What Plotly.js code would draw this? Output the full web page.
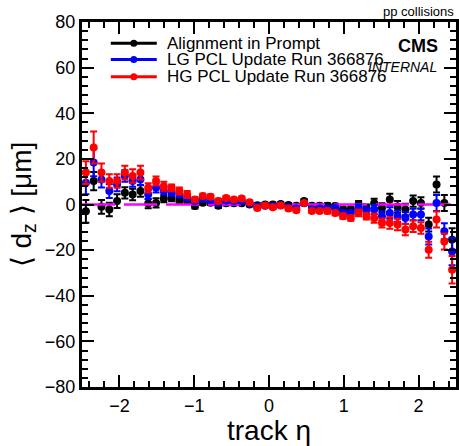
<!DOCTYPE html>
<html>
<head>
<meta charset="utf-8">
<script src="https://cdn.plot.ly/plotly-3.0.1.min.js"></script>
<style>html,body{margin:0;padding:0;background:#fff;}#chart{width:459px;height:446px;}</style>
</head>
<body>
<div id="chart"></div>
<script>
// track eta bin centres
var eta = [-2.448,-2.344,-2.240,-2.135,-2.031,-1.927,-1.823,-1.719,-1.615,-1.510,-1.406,-1.302,
  -1.198,-1.094,-0.990,-0.885,-0.781,-0.677,-0.573,-0.469,-0.365,-0.260,-0.156,-0.052,
  0.052,0.156,0.260,0.365,0.469,0.573,0.677,0.781,0.885,0.990,1.094,1.198,
  1.302,1.406,1.510,1.615,1.719,1.823,1.927,2.031,2.135,2.240,2.344,2.448];

// <d_z> [um]
var dzPrompt = [-3,10.3,-1,-2.2,1.5,5.1,4.4,5.9,0.4,0.7,2.5,2.9,
  1.5,1.5,-0.7,0.8,0.8,-0.5,0.5,0.5,0.5,0,-0.3,0,
  0,0.2,-0.2,-0.5,1.5,-0.5,-0.5,-0.5,-0.7,-2.2,-2.2,0,
  -1.5,0.5,-1.5,2.2,-1,-2.2,1.5,0.7,-8.8,8.8,0.7,-15.4];
var errPrompt = [5,4,3,3,3,2.5,2.5,2.5,2,2,1.5,1.5,
  1.2,1.2,1,1,1,1,0.8,0.8,0.8,0.8,0.8,0.8,
  0.8,0.8,0.8,0.8,0.8,0.8,0.8,1,1,1.2,1.2,1.5,
  1.5,2,2,2.5,2.5,2.5,2.5,2.5,3,3.5,3.5,5];

var dzLG = [9.5,18.4,11,5.9,8.8,12.5,10.3,11,4.4,7.3,5.9,5.3,
  4.4,3,1.5,2.5,2,0.7,1.8,1.5,1.5,0.5,-1,-0.5,
  -0.8,-0.3,-1.2,-1.8,0.5,-2.2,-1.8,-1.8,-1.5,-3.7,-3.7,-1.5,
  -2.9,-2.2,-5.1,-3.7,-5.1,-5.9,-4.4,-4.4,-14,0.7,-11.7,-20.6];
var errLG = [5,6,3.5,3,3,2.5,2.5,2.5,2,2,1.5,1.5,
  1.2,1.2,1,1,1,1,0.8,0.8,0.8,0.8,0.8,0.8,
  0.8,0.8,0.8,0.8,0.8,0.8,0.8,1,1,1.2,1.2,1.5,
  1.5,2,2,2.5,2.5,2.5,2.5,2.5,3.5,3.5,3.5,6];

var dzHG = [14,25,14,10.3,10.3,14,12.5,14,7.3,10.3,8,7.3,
  5.9,4.4,2.2,3.7,3.4,1.5,2.9,2.2,2.6,1.0,-1.5,-0.4,
  -1.2,-0.4,-1.8,-2.5,0.7,-2.9,-2.9,-2.9,-3.7,-5.1,-5.9,-3.7,
  -5.1,-6,-8.1,-8.1,-8.8,-11,-9.5,-10.3,-19.8,-6.6,-16.2,-28.6];
var errHG = [5,7,4,3,3,3,3,3,2,2,2,1.5,
  1.5,1.5,1,1,1,1,0.8,0.8,0.8,0.8,0.8,0.8,
  0.8,0.8,0.8,0.8,0.8,0.8,0.8,1,1,1.2,1.2,1.5,
  1.5,2,2,2.5,2.5,2.5,2.5,2.5,3.5,3.5,3.5,6];

var refLineX = [-2.5, 2.5];
var refLineY = [0, 0];

var seriesNames = ["Alignment in Prompt","LG PCL Update Run 366876","HG PCL Update Run 366876"];
var seriesColors = ['#000000', '#0000ff', '#ff0000'];

var FONT = "Liberation Sans, Arial, sans-serif";

function series(name, y, err, color) {
  return {
    x: eta, y: y, name: name, type: 'scatter', mode: 'markers',
    marker: {color: color, size: 8, symbol: 'circle'},
    error_y: {type: 'data', array: err, visible: true, color: color, thickness: 2, width: 3.5},
    showlegend: false
  };
}

var traces = [
  series(seriesNames[0], dzPrompt, errPrompt, seriesColors[0]),
  {x: refLineX, y: refLineY, type: 'scatter', mode: 'lines', showlegend: false, hoverinfo: 'skip',
   line: {color: '#ff00ff', width: 2.5, dash: '33px,9px'}},
  series(seriesNames[1], dzLG, errLG, seriesColors[1]),
  series(seriesNames[2], dzHG, errHG, seriesColors[2])
];

// legend drawn as shapes + annotations (ROOT-style compact legend)
var legRowY = [0.942, 0.897, 0.850];
var shapes = [], annotations = [];
for (var i = 0; i < seriesNames.length; i++) {
  shapes.push({type: 'line', xref: 'paper', yref: 'paper', x0: 0.077, x1: 0.2, y0: legRowY[i], y1: legRowY[i],
    line: {color: seriesColors[i], width: 3}});
  shapes.push({type: 'circle', xref: 'paper', yref: 'paper', xsizemode: 'pixel', ysizemode: 'pixel',
    xanchor: 0.1385, yanchor: legRowY[i], x0: -3.5, x1: 3.5, y0: -3.5, y1: 3.5,
    fillcolor: seriesColors[i], line: {color: seriesColors[i], width: 0}});
  annotations.push({text: seriesNames[i], xref: 'paper', yref: 'paper', x: 0.222, y: legRowY[i],
    xanchor: 'left', yanchor: 'middle', showarrow: false,
    font: {family: FONT, size: 17, color: '#000'}});
}
annotations.push({text: 'pp collisions', xref: 'paper', yref: 'paper', x: 1, y: 1, xanchor: 'right', yanchor: 'bottom',
  yshift: 1, showarrow: false, font: {family: FONT, size: 13, color: '#000'}});
annotations.push({text: '<b>CMS</b>', xref: 'paper', yref: 'paper', x: 0.958, y: 0.933, xanchor: 'right', yanchor: 'middle',
  showarrow: false, font: {family: FONT, size: 18, color: '#000'}});
annotations.push({text: '<i>INTERNAL</i>', xref: 'paper', yref: 'paper', x: 0.955, y: 0.876, xanchor: 'right', yanchor: 'middle',
  showarrow: false, font: {family: FONT, size: 14, color: '#000'}});

var axisCommon = {
  showline: true, linecolor: '#000', linewidth: 3, mirror: 'allticks',
  ticks: 'inside', ticklen: 12, tickwidth: 2, tickcolor: '#000',
  showgrid: false, zeroline: false,
  tickfont: {family: FONT, size: 18, color: '#000'}
};

var layout = {
  width: 459, height: 446,
  margin: {l: 82, r: 3, t: 22, b: 59},
  paper_bgcolor: '#fff', plot_bgcolor: '#fff',
  font: {family: FONT, color: '#000'},
  xaxis: Object.assign({}, axisCommon, {
    range: [-2.5, 2.5], dtick: 1, tick0: 0,
    minor: {dtick: 0.2, ticks: 'inside', ticklen: 6, tickwidth: 2, tickcolor: '#000'},
    title: {text: 'track η', font: {family: FONT, size: 28, color: '#000'}, standoff: 6}
  }),
  yaxis: Object.assign({}, axisCommon, {
    range: [-80, 80], dtick: 20, tick0: 0,
    minor: {dtick: 4, ticks: 'inside', ticklen: 6, tickwidth: 2, tickcolor: '#000'},
    title: {text: '⟨ d<sub>z</sub> ⟩ [μm]', font: {family: FONT, size: 28, color: '#000'}, standoff: 6}
  }),
  showlegend: false,
  shapes: shapes,
  annotations: annotations
};

Plotly.newPlot('chart', traces, layout, {staticPlot: true});
</script>
</body>
</html>
